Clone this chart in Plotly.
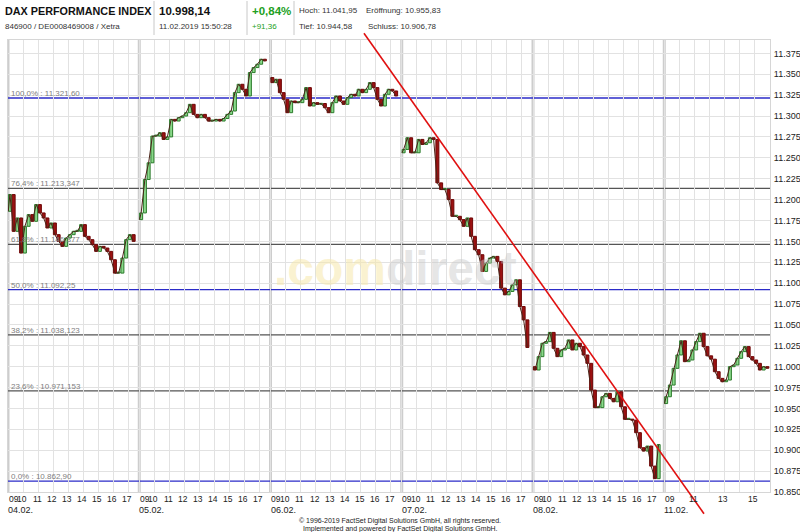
import plotly.graph_objects as go

W, H = 800, 532

# ---------------- data ----------------
day_labels = ["04.02.", "05.02.", "06.02.", "07.02.", "08.02.", "11.02."]
hour_labels_full = ["09", "10", "11", "12", "13", "14", "15", "16", "17"]
hour_labels_last = ["09", "11", "13", "15"]
day_length_hours = 8.75      # width of one trading day slot on the axis (09:00 - 17:45)
candle_minutes = 15

# 15-minute closes (index points)
open_0402 = 11186
close_0402 = [11206, 11162, 11178, 11136, 11168, 11182, 11174, 11194, 11184, 11178,
              11166, 11172, 11158, 11150, 11144, 11154, 11158, 11162, 11162, 11170,
              11156, 11152, 11146, 11138, 11144, 11142, 11138, 11128, 11112, 11112,
              11130, 11152, 11158, 11150]
open_0502 = 11176
close_0502 = [11184, 11224, 11244, 11276, 11276, 11280, 11272, 11275, 11296, 11294,
              11298, 11300, 11304, 11314, 11302, 11298, 11302, 11298, 11294, 11294,
              11296, 11294, 11297, 11302, 11306, 11328, 11338, 11332, 11324, 11352,
              11358, 11362, 11368, 11366]
open_0602 = 11346
close_0602 = [11340, 11344, 11328, 11320, 11304, 11318, 11316, 11316, 11320, 11334,
              11312, 11316, 11314, 11315, 11310, 11304, 11316, 11324, 11318, 11314,
              11322, 11326, 11324, 11332, 11328, 11332, 11340, 11334, 11320, 11312,
              11326, 11332, 11330, 11324]
open_0702 = 11256
close_0702 = [11260, 11274, 11256, 11256, 11272, 11266, 11268, 11274, 11272, 11220,
              11212, 11212, 11200, 11180, 11180, 11176, 11168, 11178, 11156, 11140,
              11134, 11114, 11124, 11130, 11132, 11126, 11094, 11086, 11090, 11098,
              11104, 11072, 11056, 11023]
open_0802 = 11000
close_0802 = [10996, 11012, 11028, 11030, 11041, 11022, 11012, 11020, 11022, 11032,
              11020, 11028, 11024, 11014, 11004, 10972, 10951, 10951, 10964, 10968,
              10962, 10958, 10970, 10952, 10937, 10937, 10936, 10921, 10903, 10899,
              10905, 10881, 10866, 10906.78]
open_1102 = 10955.83
close_1102 = [10964, 10978, 10998, 11014, 11031, 11006, 11008, 11020, 11030, 11040,
              11024, 11013, 11009, 10994, 10986, 10982, 10984, 11000, 11002, 11010,
              11018, 11024, 11012, 11008, 11004, 10996, 11000, 10998.14]

day_opens = [open_0402, open_0502, open_0602, open_0702, open_0802, open_1102]
day_closes = [close_0402, close_0502, close_0602, close_0702, close_0802, close_1102]

# Fibonacci retracement levels
fib_labels = ["100,0% : 11.321,60", "76,4% : 11.213,347", "61,8% : 11.146,377",
              "50,0% : 11.092,25", "38,2% : 11.038,123", "23,6% : 10.971,153",
              "0,0% : 10.862,90"]
fib_values = [11321.60, 11213.347, 11146.377, 11092.25, 11038.123, 10971.153, 10862.90]
fib_colors = ["#2b2bc8", "#555555", "#555555", "#2b2bc8", "#555555", "#555555", "#2b2bc8"]

# trend line (axis units: trading hours since 04.02. 09:00, index points)
trend_u = [23.73, 46.40]
trend_v = [11399, 10824]

y_tick_vals = [10850, 10875, 10900, 10925, 10950, 10975, 11000, 11025, 11050, 11075,
               11100, 11125, 11150, 11175, 11200, 11225, 11250, 11275, 11300, 11325,
               11350, 11375]
y_tick_text = ["10.850", "10.875", "10.900", "10.925", "10.950", "10.975", "11.000",
               "11.025", "11.050", "11.075", "11.100", "11.125", "11.150", "11.175",
               "11.200", "11.225", "11.250", "11.275", "11.300", "11.325", "11.350",
               "11.375"]

header_title = "DAX PERFORMANCE INDEX"
header_ids = "846900 / DE0008469008 / Xetra"
header_last = "10.998,14"
header_time = "11.02.2019 15:50:28"
header_pct = "+0,84%"
header_abs = "+91,36"
header_high = "Hoch: 11.041,95"
header_open = "Eröffnung: 10.955,83"
header_low = "Tief: 10.944,58"
header_prev = "Schluss: 10.906,78"
copyright_lines = ["© 1996-2019 FactSet Digital Solutions GmbH, all rights reserved.",
                   "Implemented and powered by FactSet Digital Solutions GmbH."]

# ---------------- layout geometry ----------------
FONT = "Liberation Sans, Arial, sans-serif"
px_left, px_right, px_top, px_bottom = 8, 770, 40, 492
x_range = [0, 50.8]
y_range = [10850, 11391]
x_dom = [px_left / W, px_right / W]
y_dom = [1 - px_bottom / H, 1 - px_top / H]
u_per_px = (x_range[1] - x_range[0]) / (px_right - px_left)
v_per_px = (y_range[1] - y_range[0]) / (px_bottom - px_top)
x2_range = [x_range[0] - px_left * u_per_px, x_range[1] + (W - px_right) * u_per_px]
y2_range = [y_range[0] - (H - px_bottom) * v_per_px, y_range[1] + px_top * v_per_px]


def py(p):
    return 1 - p / H


# ---------------- candles (bodies as floating bars) ----------------
inc = dict(x=[], base=[], h=[])
dec = dict(x=[], base=[], h=[])
path_x, path_y = [], []
for d, (op, closes) in enumerate(zip(day_opens, day_closes)):
    prev = op
    path_x.append(d * day_length_hours + 0.02)
    path_y.append(op)
    for k, cl in enumerate(closes):
        u = d * day_length_hours + (k + 0.5) * candle_minutes / 60
        tgt = inc if cl >= prev else dec
        tgt["x"].append(u)
        tgt["base"].append(min(prev, cl))
        tgt["h"].append(max(abs(cl - prev), 1.2))
        path_x.append(u)
        path_y.append(cl)
        prev = cl
    path_x.append(None)
    path_y.append(None)

body_width = 0.2  # hours

fig = go.Figure()
fig.add_trace(go.Scatter(
    x=path_x, y=path_y, mode="lines", line=dict(color="#4a2418", width=1),
    connectgaps=False, showlegend=False, hoverinfo="skip", xaxis="x", yaxis="y"))
fig.add_trace(go.Bar(
    x=inc["x"], y=inc["h"], base=inc["base"], width=body_width,
    marker=dict(color="#8ad88a", line=dict(color="#2a7a2a", width=1)),
    showlegend=False, hoverinfo="skip", xaxis="x", yaxis="y"))
fig.add_trace(go.Bar(
    x=dec["x"], y=dec["h"], base=dec["base"], width=body_width,
    marker=dict(color="#9b1111", line=dict(color="#6e0606", width=1)),
    showlegend=False, hoverinfo="skip", xaxis="x", yaxis="y"))

fig.add_trace(go.Scatter(
    x=trend_u, y=trend_v, mode="lines", line=dict(color="#e01010", width=1.6),
    showlegend=False, hoverinfo="skip", xaxis="x2", yaxis="y2"))

# hour grid positions
grid_u = []
for d in range(len(day_labels)):
    for h in range(9):
        u = d * day_length_hours + h
        if u <= x_range[1]:
            grid_u.append(u)

shapes = []
for d in range(len(day_labels)):
    shapes.append(dict(type="line", xref="x", yref="y domain",
                       x0=d * day_length_hours, x1=d * day_length_hours, y0=0, y1=1,
                       line=dict(color="#cdcdcd", width=3), layer="below"))
for val, col in zip(fib_values, fib_colors):
    shapes.append(dict(type="line", xref="x domain", yref="y", x0=0, x1=1,
                       y0=val, y1=val, line=dict(color=col, width=1.3), layer="below"))
for xs_px in [154, 247, 294]:
    shapes.append(dict(type="line", xref="paper", yref="paper",
                       x0=xs_px / W, x1=xs_px / W, y0=py(1), y1=py(35),
                       line=dict(color="#c8c8c8", width=1)))

annotations = []
annotations.append(dict(
    xref="paper", yref="paper", x=395 / W, y=py(268), xanchor="center", yanchor="middle",
    text='<b><span style="color:rgba(247,232,170,0.55)">.com</span>'
         '<span style="color:rgba(200,200,200,0.45)">direct</span></b>',
    showarrow=False, font=dict(family=FONT, size=48)))

for lab, val in zip(fib_labels, fib_values):
    annotations.append(dict(xref="paper", yref="y", x=(px_left + 1) / W, y=val,
                            xanchor="left", yanchor="bottom", text=lab, showarrow=False,
                            font=dict(family=FONT, size=8, color="#808080"), yshift=-2))

for d, dl in enumerate(day_labels):
    labs = hour_labels_last if d == len(day_labels) - 1 else hour_labels_full
    for lab in labs:
        u = d * day_length_hours + int(lab) - 9
        if lab == "09":
            annotations.append(dict(xref="x", yref="paper", x=u, y=py(499), xanchor="left",
                                    yanchor="middle", text=lab, showarrow=False, xshift=-1.5,
                                    font=dict(family=FONT, size=8.5, color="#222")))
        else:
            annotations.append(dict(xref="x", yref="paper", x=u, y=py(499), xanchor="center",
                                    yanchor="middle", text=lab, showarrow=False, xshift=-1,
                                    font=dict(family=FONT, size=8.5, color="#222")))
    annotations.append(dict(xref="x", yref="paper", x=d * day_length_hours, y=py(510),
                            xanchor="left", yanchor="middle", text=dl, showarrow=False,
                            xshift=-2, font=dict(family=FONT, size=9, color="#222")))

for i, line in enumerate(copyright_lines):
    annotations.append(dict(xref="paper", yref="paper", x=400 / W, y=py(521 + 7.5 * i),
                            xanchor="center", yanchor="middle", text=line, showarrow=False,
                            font=dict(family=FONT, size=7, color="#222")))


def hdr(text, x, y, size, bold=False, color="#111"):
    t = "<b>%s</b>" % text if bold else text
    annotations.append(dict(xref="paper", yref="paper", x=x / W, y=py(y), xanchor="left",
                            yanchor="middle", text=t, showarrow=False,
                            font=dict(family=FONT, size=size, color=color)))


hdr(header_title, 3, 11, 10.8, bold=True)
hdr(header_ids, 3, 26, 8, color="#333")
hdr(header_last, 157, 11, 11.5, bold=True)
hdr(header_time, 157, 26, 8, color="#333")
hdr(header_pct, 250, 11, 11.5, bold=True, color="#22a022")
hdr(header_abs, 250, 26, 8, color="#22a022")
hdr(header_high, 297, 11, 8, color="#333")
hdr(header_open, 364, 11, 8, color="#333")
hdr(header_low, 297, 26, 8, color="#333")
hdr(header_prev, 366, 26, 8, color="#333")

fig.update_layout(
    template="none",
    width=W, height=H,
    margin=dict(l=0, r=0, t=0, b=0, autoexpand=False),
    paper_bgcolor="white", plot_bgcolor="rgba(0,0,0,0)",
    showlegend=False, barmode="overlay",
    font=dict(family=FONT),
    xaxis=dict(domain=x_dom, range=x_range, tickvals=grid_u, showticklabels=False,
               showgrid=True, gridcolor="#e2e2e2", gridwidth=1, zeroline=False,
               showline=True, mirror=True, linecolor="#d6d6d6", ticks="",
               automargin=False, fixedrange=True),
    yaxis=dict(domain=y_dom, range=y_range, side="right", tickvals=y_tick_vals,
               ticktext=y_tick_text, showgrid=True, gridcolor="#e2e2e2", gridwidth=1,
               zeroline=False, showline=True, mirror=True, linecolor="#d6d6d6",
               ticks="", ticklabelstandoff=1, automargin=False,
               tickfont=dict(family=FONT, size=9, color="#222"), fixedrange=True),
    xaxis2=dict(domain=[0, 1], range=x2_range, visible=False, fixedrange=True,
                anchor="y2"),
    yaxis2=dict(domain=[0, 1], range=y2_range, visible=False, fixedrange=True,
                anchor="x2"),
    shapes=shapes,
    annotations=annotations,
)

fig.write_html("out.html", config={"displayModeBar": False},
               post_script="document.body.style.margin='0';")
